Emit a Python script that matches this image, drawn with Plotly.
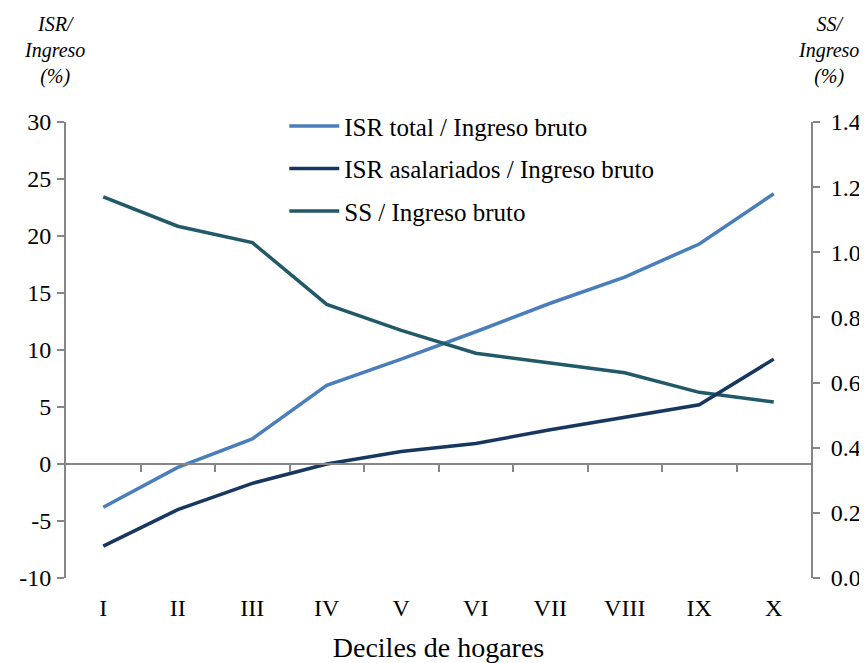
import plotly.graph_objects as go

deciles = ["I", "II", "III", "IV", "V", "VI", "VII", "VIII", "IX", "X"]
isr_total = [-3.8, -0.3, 2.2, 6.9, 9.2, 11.6, 14.1, 16.4, 19.3, 23.7]
isr_asalariados = [-7.2, -4.0, -1.7, 0.0, 1.1, 1.8, 3.0, 4.1, 5.2, 9.2]
ss = [1.17, 1.08, 1.03, 0.84, 0.76, 0.69, 0.66, 0.63, 0.57, 0.54]
left_ticks = [-10, -5, 0, 5, 10, 15, 20, 25, 30]
left_ticktext = ["-10", "-5", "0", "5", "10", "15", "20", "25", "30"]
right_ticks = [0, 0.2, 0.4, 0.6, 0.8, 1.0, 1.2, 1.4]

xpos = list(range(len(deciles)))
boundaries = [i + 0.5 for i in range(len(deciles) - 1)]

FONT = "Liberation Serif, Times New Roman, Tinos, DejaVu Serif, serif"
GRAY = "#868686"

fig = go.Figure()
fig.add_trace(go.Scatter(x=xpos, y=isr_total, mode="lines", name="ISR total / Ingreso bruto",
                         line=dict(color="#4A7EBB", width=3.5), legendgroup="a"))
fig.add_trace(go.Scatter(x=xpos, y=isr_asalariados, mode="lines", name="ISR asalariados / Ingreso bruto",
                         line=dict(color="#17375E", width=3.5), xaxis="x2", legendgroup="b"))
fig.add_trace(go.Scatter(x=xpos, y=ss, mode="lines", name="SS / Ingreso bruto",
                         line=dict(color="#215968", width=3.5), yaxis="y2", legendgroup="c"))

fig.update_layout(
    width=859, height=655,
    margin=dict(l=58, r=56, t=114, b=85, autoexpand=False),
    paper_bgcolor="white", plot_bgcolor="white",
    font=dict(family=FONT, size=24, color="black"),
    xaxis=dict(range=[-0.5, 9.5], tickmode="array", tickvals=xpos, ticktext=deciles,
               showgrid=False, zeroline=False, showline=False, ticks="", ticklabelstandoff=13,
               automargin=False,
               tickfont=dict(family=FONT, size=24, color="black"),
               title=dict(text="Deciles de hogares", font=dict(family=FONT, size=28, color="black"), standoff=21)),
    xaxis2=dict(range=[-0.5, 9.5], overlaying="x", anchor="free", position=0.25,
                tickmode="array", tickvals=boundaries, showticklabels=False,
                ticks="outside", ticklen=7, tickwidth=1.5, tickcolor=GRAY,
                showline=True, linecolor=GRAY, linewidth=2, showgrid=False, zeroline=False),
    yaxis=dict(range=[-10, 30], tickmode="array", tickvals=left_ticks, ticktext=left_ticktext,
               showgrid=False, zeroline=False, showline=True, linecolor=GRAY, linewidth=2,
               automargin=False,
               ticks="outside", ticklen=7, tickwidth=1.5, tickcolor=GRAY, ticklabelstandoff=1,
               tickfont=dict(family=FONT, size=24, color="black")),
    yaxis2=dict(range=[0, 1.4], tickmode="array", tickvals=right_ticks,
                tickformat=".1f", overlaying="y", side="right", anchor="x", automargin=False,
                showgrid=False, zeroline=False, showline=True, linecolor=GRAY, linewidth=2,
                ticks="outside", ticklen=7, tickwidth=1.5, tickcolor=GRAY, ticklabelstandoff=6,
                tickfont=dict(family=FONT, size=24, color="black")),
    legend=dict(x=0.293, y=1.041, xanchor="left", yanchor="top", bgcolor="rgba(0,0,0,0)",
                font=dict(family=FONT, size=25, color="black"), tracegroupgap=7,
                traceorder="grouped", itemwidth=50),
    showlegend=True,
)

fig.add_annotation(text="<i>ISR/</i><br><i>Ingreso</i><br><i>(%)</i>", xref="paper", yref="paper",
                   x=-0.016, y=1.244, xanchor="center", yanchor="top", showarrow=False,
                   align="center", font=dict(family=FONT, size=20, color="black"))
fig.add_annotation(text="<i>SS/</i><br><i>Ingreso</i><br><i>(%)</i>", xref="paper", yref="paper",
                   x=1.023, y=1.244, xanchor="center", yanchor="top", showarrow=False,
                   align="center", font=dict(family=FONT, size=20, color="black"))

fig.write_html("out.html")
